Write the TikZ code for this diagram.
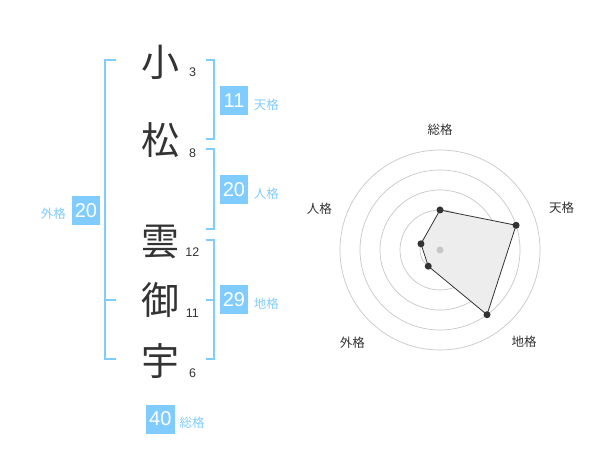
\documentclass[tikz,border=0pt]{standalone}
\usepackage{fontspec}
\usetikzlibrary{calc}
\setmainfont{Liberation Sans}
\newfontfamily\cjk{Noto Sans CJK JP}
\definecolor{sky}{HTML}{80CCFF}
\definecolor{ink}{HTML}{333333}
\begin{document}
\begin{tikzpicture}[x=1pt,y=-1pt,
 kanji/.style={font=\cjk\fontsize{38}{38}\selectfont, text=ink, inner sep=0},
 strokes/.style={font=\fontsize{12.5}{12.5}\selectfont, text=ink, inner sep=0},
 numbox/.style={fill=sky, text=white, minimum width=28.5, minimum height=29, inner sep=0, font=\fontsize{20}{20}\selectfont},
 kaku/.style={font=\cjk\fontsize{12.5}{12.5}\selectfont, text=sky, inner sep=0},
 bracket/.style={draw=sky, line width=2},
 ring/.style={draw=black!22, line width=0.7},
 rlabel/.style={font=\cjk\fontsize{12.5}{12.5}\selectfont, text=ink, inner sep=0},
 vdot/.style={circle, fill=ink, inner sep=0, minimum size=7},
 polyfill/.style={draw=ink, line width=0.8, fill=black!7}
]
\useasboundingbox (0,0) rectangle (600,470);
% characters
\node[kanji] (c1) at (160,62) {小};
\node[kanji] (c2) at (160,140) {松};
\node[kanji] (c3) at (160,242) {雲};
\node[kanji] (c4) at (160,300) {御};
\node[kanji] (c5) at (160,361) {宇};
\node[strokes] (s1) at (192.7,72.7) {3};
\node[strokes] (s2) at (192.7,153.3) {8};
\node[strokes] (s3) at (192.3,252.3) {12};
\node[strokes] (s4) at (192.3,313.3) {11};
\node[strokes] (s5) at (192.7,373.3) {6};
% brackets
\draw[bracket] (116,60) -- (105,60) -- (105,359.3) -- (116,359.3);
\draw[bracket] (105,300) -- (116,300);
\draw[bracket] (205.7,60) -- (214.3,60) -- (214.3,139.3) -- (205.7,139.3);
\draw[bracket] (205.7,149.3) -- (214.3,149.3) -- (214.3,229.3) -- (205.7,229.3);
\draw[bracket] (205.7,240) -- (214.3,240) -- (214.3,359.3) -- (205.7,359.3);
\draw[bracket] (214.3,300) -- (205.7,300);
% boxes
\node[numbox] (ten) at (234,100.5) {11};
\node[kaku] (tenl) at (266.3,104.5) {天格};
\node[numbox] (jin) at (234,190) {20};
\node[kaku] (jinl) at (266.3,193.5) {人格};
\node[numbox] (chi) at (234,300) {29};
\node[kaku] (chil) at (266.3,304) {地格};
\node[numbox] (gai) at (86,210.5) {20};
\node[kaku] (gail) at (53.3,214) {外格};
\node[numbox] (sou) at (160.3,419) {40};
\node[kaku] (soul) at (192,422.5) {総格};
% radar
\coordinate (o) at (440,250);
\foreach \r in {20,40,60,80,100} \draw[ring] (o) circle[radius=\r];
\coordinate (vs) at ($(o)+(-90:40)$);
\coordinate (vt) at ($(o)+(-18:80)$);
\coordinate (vc) at ($(o)+(54:80)$);
\coordinate (vg) at ($(o)+(126:20)$);
\coordinate (vj) at ($(o)+(198:20)$);
\draw[polyfill] (vs) -- (vt) -- (vc) -- (vg) -- (vj) -- cycle;
\fill[black!22] (o) circle[radius=3.5];
\foreach \v in {vs,vt,vc,vg,vj} \node[vdot] at (\v) {};
\node[rlabel] (ls) at (440,130) {総格};
\node[rlabel] (lt) at (561.7,208) {天格};
\node[rlabel] (lc) at (524,341.7) {地格};
\node[rlabel] (lg) at (352.3,342.3) {外格};
\node[rlabel] (lj) at (319.3,209) {人格};
\end{tikzpicture}
\end{document}
